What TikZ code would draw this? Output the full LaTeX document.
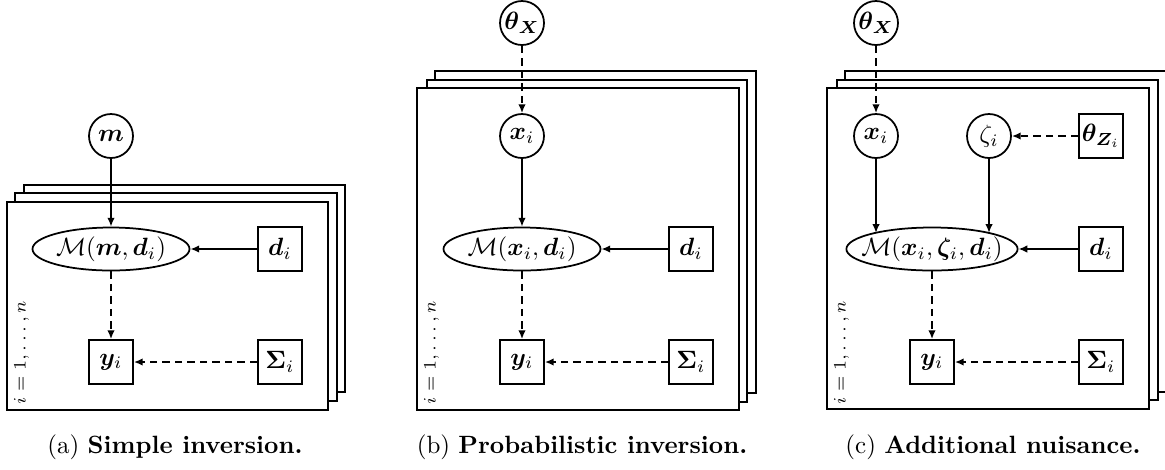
\documentclass[tikz,border=0pt]{standalone}
\usepackage{amsmath,amssymb,bm}
\usetikzlibrary{arrows.meta,shapes.geometric}

\begin{document}
\begin{tikzpicture}[
  x=0.4pt,y=-0.4pt,
  line width=0.7pt,
  latent/.style={circle,draw,minimum size=17.6pt,inner sep=0pt},
  obs/.style={rectangle,draw,minimum size=17.6pt,inner sep=1pt},
  model/.style={ellipse,draw,minimum width=62.8pt,minimum height=17.2pt,inner xsep=-4pt,inner ysep=0pt},
  plate/.style={draw,fill=white},
  platelabel/.style={rotate=90,anchor=south west,inner sep=0pt,font=\scriptsize},
  caption/.style={anchor=base},
  arrow/.style={-{Latex[length=3.5pt,width=3pt]}},
  dasharrow/.style={arrow,densely dashed}
]
\useasboundingbox (0,0) rectangle (1165,469);

% (a) simple inversion
\draw[plate] (24,185) rectangle (345,392);
\draw[plate] (15,193) rectangle (337,401);
\draw[plate] (7,202) rectangle (328,410);
\node[platelabel] (idxA) at (30,405) {$i=1,\ldots,n$};
\node[latent] (mA) at (111,136) {$\bm{m}$};
\node[model] (MA) at (111,249) {$\mathcal{M}(\bm{m},\bm{d}_i)$};
\node[obs] (dA) at (280,249) {$\bm{d}_i$};
\node[obs] (yA) at (111,362) {$\bm{y}_i$};
\node[obs] (SA) at (280,362) {$\bm{\Sigma}_i$};
\node[caption] (capA) at (175,453) {(a) \textbf{Simple inversion.}};

\draw[arrow] (mA)--(MA);
\draw[arrow] (dA)--(MA);
\draw[dasharrow] (MA)--(yA);
\draw[dasharrow] (SA)--(yA);

% (b) probabilistic inversion
\draw[plate] (435,71) rectangle (756,393);
\draw[plate] (427,80) rectangle (747,402);
\draw[plate] (417,88) rectangle (739,410);
\node[platelabel] (idxB) at (440,405) {$i=1,\ldots,n$};
\node[latent] (thXB) at (522,23) {$\bm{\theta}_{\bm{X}}$};
\node[latent] (xB) at (522,136) {$\bm{x}_i$};
\node[model] (MB) at (522,249) {$\mathcal{M}(\bm{x}_i,\bm{d}_i)$};
\node[obs] (dB) at (691,249) {$\bm{d}_i$};
\node[obs] (yB) at (522,362) {$\bm{y}_i$};
\node[obs] (SB) at (691,362) {$\bm{\Sigma}_i$};
\node[caption] (capB) at (582,453) {(b) \textbf{Probabilistic inversion.}};

\draw[dasharrow] (thXB)--(xB);
\draw[arrow] (xB)--(MB);
\draw[arrow] (dB)--(MB);
\draw[dasharrow] (MB)--(yB);
\draw[dasharrow] (SB)--(yB);

% (c) additional nuisance
\draw[plate] (845,71) rectangle (1167,392);
\draw[plate] (837,80) rectangle (1158,400);
\draw[plate] (827,88) rectangle (1149,409);
\node[platelabel] (idxC) at (850,405) {$i=1,\ldots,n$};
\node[latent] (thXC) at (876,23) {$\bm{\theta}_{\bm{X}}$};
\node[latent] (xC) at (876,136) {$\bm{x}_i$};
\node[latent] (zC) at (989,136) {$\zeta_i$};
\node[obs] (thZC) at (1101,136) {$\bm{\theta}_{\bm{Z}_i}$};
\node[model] (MC) at (932,249) {$\mathcal{M}(\bm{x}_i,\bm{\zeta}_i,\bm{d}_i)$};
\node[obs] (dC) at (1101,249) {$\bm{d}_i$};
\node[obs] (yC) at (932,362) {$\bm{y}_i$};
\node[obs] (SC) at (1101,362) {$\bm{\Sigma}_i$};
\node[caption] (capC) at (993,453) {(c) \textbf{Additional nuisance.}};

\draw[dasharrow] (thXC)--(xC);
\draw[dasharrow] (thZC)--(zC);
\draw[arrow] (xC)--(xC |- MC.165);
\draw[arrow] (zC)--(zC |- MC.15);
\draw[arrow] (dC)--(MC);
\draw[dasharrow] (MC)--(yC);
\draw[dasharrow] (SC)--(yC);
\end{tikzpicture}
\end{document}
